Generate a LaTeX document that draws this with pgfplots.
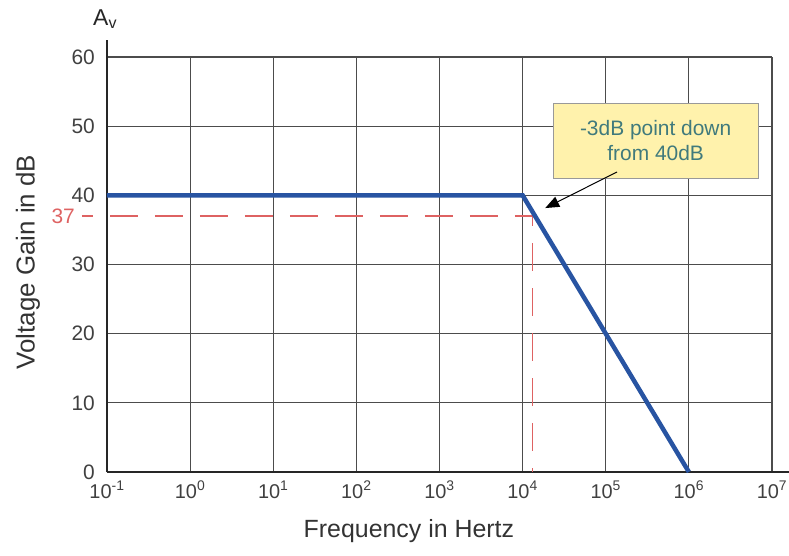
\documentclass[border=0pt]{standalone}
\usepackage{fontspec}
\setmainfont{Liberation Sans}
\usepackage{pgfplots}
\pgfplotsset{compat=1.18}
\usetikzlibrary{arrows.meta}
\definecolor{gainblue}{RGB}{40,84,162}
\definecolor{reddash}{RGB}{222,98,98}
\definecolor{callfill}{RGB}{255,242,172}
\definecolor{callteal}{RGB}{64,122,124}
\begin{document}
\begin{tikzpicture}
\begin{axis}[
    scale only axis, width=665bp, height=415bp,
    xmode=log, xmin=0.1, xmax=1e7,
    ymin=0, ymax=60,
    xtick={0.1,1,10,100,1000,10000,100000,1000000,10000000},
    xticklabels={10\textsuperscript{-1},10\textsuperscript{0},10\textsuperscript{1},10\textsuperscript{2},10\textsuperscript{3},10\textsuperscript{4},10\textsuperscript{5},10\textsuperscript{6},10\textsuperscript{7}},
    ytick={0,10,...,60},
    /pgf/number format/assume math mode=true,
    major tick length=0, minor tick length=0,
    xmajorgrids, ymajorgrids,
    major grid style={black!70, line width=1.1bp},
    axis lines=left,
    axis line style={-, black!85, line width=2.2bp},
    x axis line style={shorten >=-17bp},
    y axis line style={shorten >=-17bp},
    xticklabel style={font=\fontsize{20}{20}\selectfont, text=black!75, anchor=north, inner sep=0pt, yshift=-9bp},
    yticklabel style={font=\fontsize{21}{21}\selectfont, text=black!75, anchor=east, inner sep=0pt, xshift=-12bp},
    extra y ticks={37},
    extra y tick style={grid=none, yticklabel style={text=reddash, xshift=-20bp}},
    xlabel={Frequency in Hertz},
    ylabel={Voltage Gain in dB},
    xlabel style={font=\fontsize{25}{25}\selectfont, text=black!80, at={(axis description cs:0.454,-0.142)}, anchor=center},
    ylabel style={font=\fontsize{26}{26}\selectfont, text=black!80, at={(axis description cs:-0.119,0.506)}, anchor=center},
    clip=false,
]
% -3 dB guide lines
\addplot[reddash, line width=1.5bp, dash pattern=on 28bp off 17bp, dash phase=17bp]
    coordinates {(0.05,37) (1.32e4,37) (1.32e4,0)};
% Bode asymptote
\addplot[gainblue, line width=4.5bp, line join=miter]
    coordinates {(0.1,40) (1e4,40) (1e6,0)};

\node[draw=black!40, fill=callfill, text=callteal, line width=0.8bp,
      minimum width=205bp, minimum height=75bp, align=center,
      font=\fontsize{21}{25}\selectfont]
    at (rel axis cs:0.825,0.799) {-3dB point down\\from 40dB};
\draw[-{Triangle[length=14bp,width=11bp]}, line width=1bp, black]
    (rel axis cs:0.767,0.723) -- (rel axis cs:0.659,0.636);
\node[anchor=base west, inner sep=0pt, font=\fontsize{23}{23}\selectfont, text=black!85]
    at (rel axis cs:-0.021,1.077) {A\textsubscript{v}};
\end{axis}
\pgfresetboundingbox
\path[use as bounding box] (-107bp,-84bp) rectangle (682bp,472bp);
\end{tikzpicture}
\end{document}
